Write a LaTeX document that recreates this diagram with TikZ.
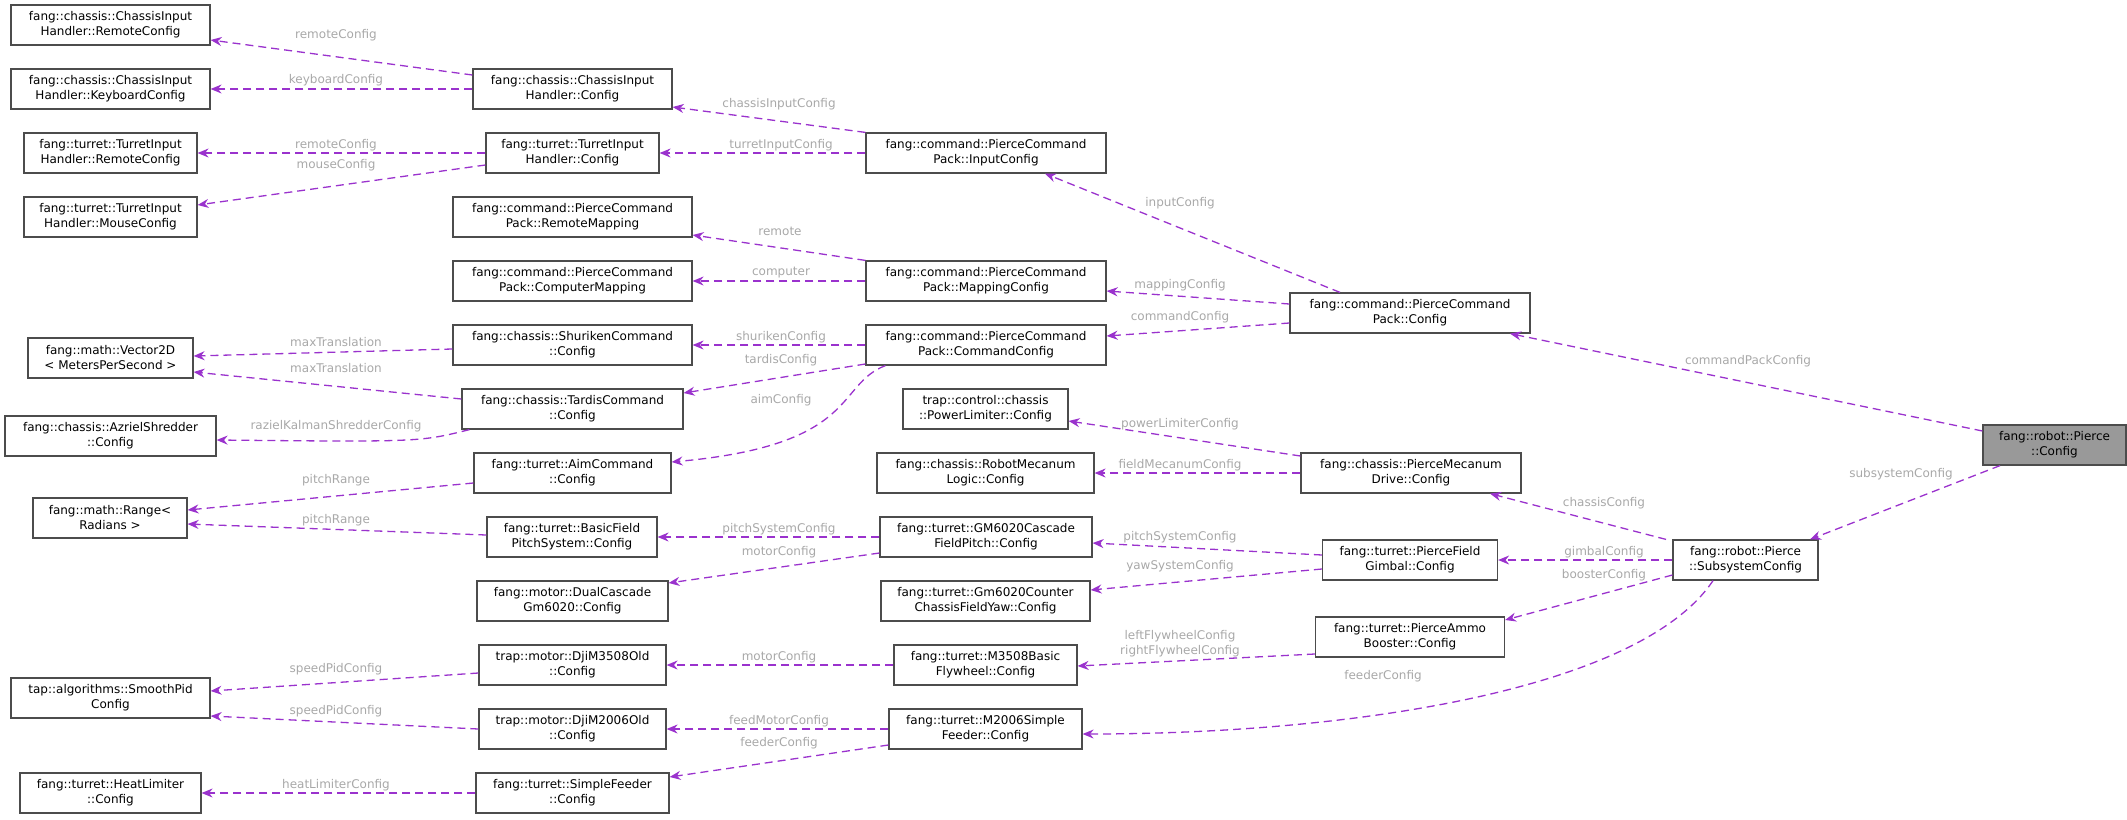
\documentclass[tikz,border=0pt]{standalone}
\usepackage{fontspec}
\setmainfont{DejaVu Sans}
\usetikzlibrary{arrows.meta}
\definecolor{edgec}{HTML}{9A32CD}
\definecolor{labc}{HTML}{A8A8A8}
\begin{document}
\begin{tikzpicture}[x=1pt,y=-1pt,
  box/.style={draw=black!70,line width=1.2pt,fill=white,minimum height=40pt,inner sep=2pt,align=center,font=\fontsize{12}{15}\selectfont},
  e/.style={draw=edgec,line width=1.3pt,dash pattern=on 8pt off 5pt,-{Stealth[length=11pt,width=9pt]}},
  lab/.style={text=labc,font=\fontsize{12}{15}\selectfont,align=center,inner sep=0pt}]
\useasboundingbox (0,0) rectangle (2127,819);
\newcommand\bx[5]{\node[box,minimum width=#4pt] (#1) at (#2,#3) {#5};}
% column A
\bx{A1}{110.5}{25}{199}{fang::chassis::ChassisInput\\Handler::RemoteConfig}
\bx{A2}{110.5}{89}{199}{fang::chassis::ChassisInput\\Handler::KeyboardConfig}
\bx{A3}{110.5}{153}{173}{fang::turret::TurretInput\\Handler::RemoteConfig}
\bx{A4}{110.5}{217}{173}{fang::turret::TurretInput\\Handler::MouseConfig}
\bx{A5}{110.5}{358}{165}{fang::math::Vector2D\\< MetersPerSecond >}
\bx{A6}{110.5}{436}{211}{fang::chassis::AzrielShredder\\::Config}
\bx{A7}{110}{518}{154}{fang::math::Range<\\Radians >}
\bx{A8}{110.5}{698}{199}{tap::algorithms::SmoothPid\\Config}
\bx{A9}{110.5}{793}{181}{fang::turret::HeatLimiter\\::Config}
% column B
\bx{B1}{572.5}{89}{199}{fang::chassis::ChassisInput\\Handler::Config}
\bx{B2}{572.5}{153}{173}{fang::turret::TurretInput\\Handler::Config}
\bx{B3}{572.5}{217}{239}{fang::command::PierceCommand\\Pack::RemoteMapping}
\bx{B4}{572.5}{281}{239}{fang::command::PierceCommand\\Pack::ComputerMapping}
\bx{B5}{572.5}{345}{239}{fang::chassis::ShurikenCommand\\::Config}
\bx{B6}{572.5}{409}{221}{fang::chassis::TardisCommand\\::Config}
\bx{B7}{572.5}{473}{197}{fang::turret::AimCommand\\::Config}
\bx{B8}{572}{537}{170}{fang::turret::BasicField\\PitchSystem::Config}
\bx{B9}{572.5}{601}{191}{fang::motor::DualCascade\\Gm6020::Config}
\bx{B10}{572.5}{665}{187}{trap::motor::DjiM3508Old\\::Config}
\bx{B11}{572.5}{729}{187}{trap::motor::DjiM2006Old\\::Config}
\bx{B12}{572.5}{793}{193}{fang::turret::SimpleFeeder\\::Config}
% column C
\bx{C1}{986}{153}{240}{fang::command::PierceCommand\\Pack::InputConfig}
\bx{C2}{986}{281}{240}{fang::command::PierceCommand\\Pack::MappingConfig}
\bx{C3}{986}{345}{240}{fang::command::PierceCommand\\Pack::CommandConfig}
\bx{C4}{985.5}{409}{165}{trap::control::chassis\\::PowerLimiter::Config}
\bx{C5}{985.5}{473}{217}{fang::chassis::RobotMecanum\\Logic::Config}
\bx{C6}{986}{537}{212}{fang::turret::GM6020Cascade\\FieldPitch::Config}
\bx{C7}{985.5}{601}{209}{fang::turret::Gm6020Counter\\ChassisFieldYaw::Config}
\bx{C8}{985.5}{665}{183}{fang::turret::M3508Basic\\Flywheel::Config}
\bx{C9}{985.5}{729}{193}{fang::turret::M2006Simple\\Feeder::Config}
% column D
\bx{D1}{1410}{313}{240}{fang::command::PierceCommand\\Pack::Config}
\bx{D2}{1411}{473}{220}{fang::chassis::PierceMecanum\\Drive::Config}
\bx{D3}{1410}{560}{175}{fang::turret::PierceField\\Gimbal::Config}
\bx{D4}{1410}{637}{189}{fang::turret::PierceAmmo\\Booster::Config}
\bx{S}{1745.5}{560}{145}{fang::robot::Pierce\\::SubsystemConfig}
\node[box,fill=black!40,minimum width=143pt] (R) at (2054.5,445) {fang::robot::Pierce\\::Config};
% edges
\draw[e] (B1.west|-0,75) -- (A1.east|-0,40);
\draw[e] (B1.west) -- (A2.east);
\draw[e] (B2.west) -- (A3.east);
\draw[e] (B2.west|-0,165) -- (A4.east|-0,205);
\draw[e] (C1.north west) -- (B1.east|-0,107);
\draw[e] (C1.west) -- (B2.east);
\draw[e] (C2.north west) -- (B3.east|-0,235);
\draw[e] (C2.west) -- (B4.east);
\draw[e] (C3.west) -- (B5.east);
\draw[e] (C3.west|-0,364) -- (B6.east|-0,393);
\draw[e] ([xshift=20pt]C3.south west) .. controls (835,385) and (860,445) .. (B7.east|-0,462);
\draw[e] (B5.west|-0,349) -- (A5.east|-0,356);
\draw[e] (B6.west|-0,399) -- (A5.east|-0,372);
\draw[e] ([xshift=8pt]B6.south west) .. controls (420,442) .. (A6.east|-0,440);
\draw[e] (B7.west|-0,483) -- (A7.east|-0,510);
\draw[e] (B8.west|-0,535) -- (A7.east|-0,524);
\draw[e] (C6.west) -- (B8.east);
\draw[e] (C6.west|-0,553) -- (B9.east|-0,583);
\draw[e] (C8.west) -- (B10.east);
\draw[e] (C9.west) -- (B11.east);
\draw[e] (C9.west|-0,745) -- (B12.east|-0,777);
\draw[e] (B10.west|-0,673) -- (A8.east|-0,691);
\draw[e] (B11.west) -- (A8.east|-0,716);
\draw[e] (B12.west) -- (A9.east);
\draw[e] (D1.north-|1340,0) -- (C1.south-|1045,0);
\draw[e] (D1.west|-0,304) -- (C2.east|-0,291);
\draw[e] (D1.west|-0,323) -- (C3.east|-0,336);
\draw[e] (D2.west|-0,456) -- (C4.east|-0,421);
\draw[e] (D2.west) -- (C5.east);
\draw[e] (D3.west|-0,555) -- (C6.east|-0,543);
\draw[e] (D3.west|-0,569) -- (C7.east|-0,590);
\draw[e] (D4.west|-0,654) -- (C8.east|-0,666);
\draw[e] (S.north-|1666,0) -- (D2.south-|1490,0);
\draw[e] (S.west) -- (D3.east);
\draw[e] (S.west|-0,575) -- (D4.east|-0,620);
\draw[e] (S.south-|1713,0) .. controls (1640,690) and (1350,734) .. (C9.east|-0,734);
\draw[e] (R.west|-0,431) -- (D1.south-|1510,0);
\draw[e] (R.south-|2000,0) -- (S.north-|1810,0);
% labels
\node[lab] (l1) at (336,35) {remoteConfig};
\node[lab] (l2) at (336,80) {keyboardConfig};
\node[lab] (l3) at (336,145) {remoteConfig};
\node[lab] (l4) at (336,165) {mouseConfig};
\node[lab] (l5) at (779,104) {chassisInputConfig};
\node[lab] (l6) at (781,145) {turretInputConfig};
\node[lab] (l7) at (780,231) {remote};
\node[lab] (l8) at (781,273) {computer};
\node[lab] (l9) at (781,337) {shurikenConfig};
\node[lab] (l10) at (781,360) {tardisConfig};
\node[lab] (l11) at (781,400) {aimConfig};
\node[lab] (l12) at (336,342) {maxTranslation};
\node[lab] (l13) at (336,368) {maxTranslation};
\node[lab] (l14) at (336,426) {razielKalmanShredderConfig};
\node[lab] (l15) at (336,480) {pitchRange};
\node[lab] (l16) at (336,520) {pitchRange};
\node[lab] (l17) at (779,529) {pitchSystemConfig};
\node[lab] (l18) at (779,552) {motorConfig};
\node[lab] (l19) at (779,657) {motorConfig};
\node[lab] (l20) at (779,721) {feedMotorConfig};
\node[lab] (l21) at (779,743) {feederConfig};
\node[lab] (l22) at (336,669) {speedPidConfig};
\node[lab] (l23) at (336,711) {speedPidConfig};
\node[lab] (l24) at (336,785) {heatLimiterConfig};
\node[lab] (l25) at (1180,203) {inputConfig};
\node[lab] (l26) at (1180,285) {mappingConfig};
\node[lab] (l27) at (1180,317) {commandConfig};
\node[lab] (l28) at (1180,424) {powerLimiterConfig};
\node[lab] (l29) at (1180,465) {fieldMecanumConfig};
\node[lab] (l30) at (1180,537) {pitchSystemConfig};
\node[lab] (l31) at (1180,566) {yawSystemConfig};
\node[lab] (l32) at (1180,644) {leftFlywheelConfig\\rightFlywheelConfig};
\node[lab] (l33) at (1604,503) {chassisConfig};
\node[lab] (l34) at (1604,552) {gimbalConfig};
\node[lab] (l35) at (1604,575) {boosterConfig};
\node[lab] (l36) at (1383,676) {feederConfig};
\node[lab] (l37) at (1748,361) {commandPackConfig};
\node[lab] (l38) at (1901,474) {subsystemConfig};
\end{tikzpicture}
\end{document}
